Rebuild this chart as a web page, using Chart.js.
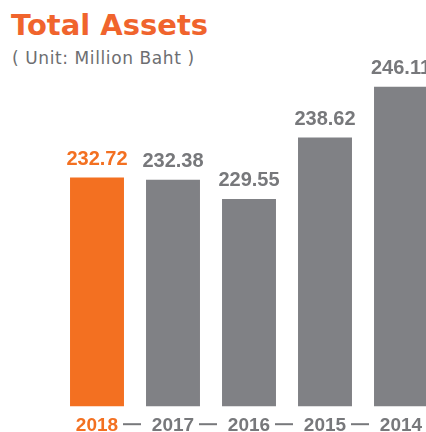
<!DOCTYPE html>
<html>
<head>
<meta charset="utf-8">
<script src="https://cdn.jsdelivr.net/npm/chart.js@4/dist/chart.umd.min.js"></script>
<style>
  body { margin: 0; width: 426px; height: 432px; overflow: hidden; background: #fff; position: relative; }
  #title { position: absolute; left: 11px; top: 8px; font: bold 29px "DejaVu Sans", sans-serif; color: #F0642D; line-height: 34px; }
  #unit { position: absolute; left: 12px; top: 48px; font: 17px "DejaVu Sans", sans-serif; color: #6D6E71; letter-spacing: 0.6px; line-height: 20px; }
  #financeChart { position: absolute; left: 0; top: 0; }
</style>
</head>
<body>
<div id="title">Total Assets</div>
<div id="unit">( Unit: Million Baht )</div>
<canvas id="financeChart" width="440" height="445"></canvas>
<script>
const years = ['2018', '2017', '2016', '2015', '2014'];
const assets = [232.72, 232.38, 229.55, 238.62, 246.11];

const orange = '#F37021';
const gray = '#808185';
const textGray = '#77787B';

// value labels above bars
const valueLabels = {
  id: 'valueLabels',
  afterDatasetsDraw(chart) {
    const c = chart.ctx;
    const meta = chart.getDatasetMeta(0);
    c.save();
    c.font = 'bold 20px "Liberation Sans Narrow", sans-serif';
    c.textAlign = 'center';
    c.textBaseline = 'alphabetic';
    meta.data.forEach((bar, i) => {
      c.fillStyle = i === 0 ? orange : textGray;
      c.fillText(assets[i].toFixed(2), bar.x, bar.y - 13);
    });
    c.restore();
  }
};

// dashes between year labels
const yearDashes = {
  id: 'yearDashes',
  afterDraw(chart) {
    const c = chart.ctx;
    const x = chart.scales.x;
    const y = chart.chartArea.bottom + 18;
    c.save();
    c.strokeStyle = textGray;
    c.lineWidth = 2;
    for (let i = 0; i < years.length - 1; i++) {
      const mid = (x.getPixelForValue(i) + x.getPixelForValue(i + 1)) / 2 - 3;
      c.beginPath();
      c.moveTo(mid - 9, y);
      c.lineTo(mid + 9, y);
      c.stroke();
    }
    c.restore();
  }
};

const ctx = document.getElementById('financeChart');
new Chart(ctx.getContext('2d'), {
  type: 'bar',
  data: {
    labels: years,
    datasets: [{
      data: assets,
      backgroundColor: years.map((y, i) => i === 0 ? orange : gray),
      barPercentage: 0.71,
      categoryPercentage: 1
    }]
  },
  options: {
    responsive: false,
    animation: false,
    layout: { padding: { left: 59, right: 1, top: 40, bottom: 0 } },
    plugins: {
      legend: { display: false },
      tooltip: { enabled: false }
    },
    scales: {
      x: {
        grid: { display: false, drawTicks: false },
        border: { display: false },
        ticks: {
          padding: 8,
          font: { family: '"Liberation Sans Narrow", sans-serif', size: 19, weight: 'bold', lineHeight: 1.2 },
          color: (c) => c.index === 0 ? orange : textGray
        }
      },
      y: {
        display: false,
        min: 199,
        max: 253
      }
    }
  },
  plugins: [valueLabels, yearDashes]
});
</script>
</body>
</html>
